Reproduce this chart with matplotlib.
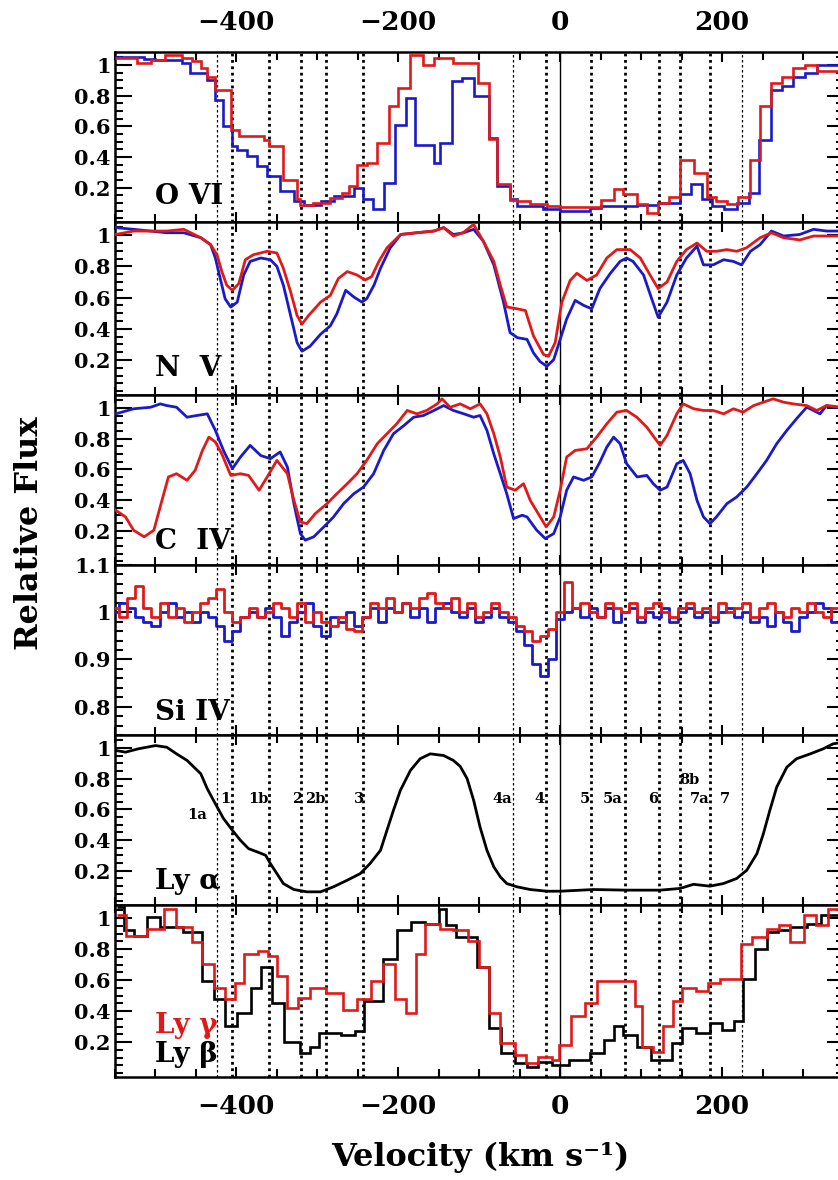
"""Six stacked absorption-line panels (O VI, N V, C IV, Si IV, Ly a, Ly b/g) vs velocity."""
import matplotlib
matplotlib.use("Agg")
import matplotlib.pyplot as plt
from matplotlib.ticker import MultipleLocator, FixedLocator, FuncFormatter

plt.rcParams["font.family"] = ["DejaVu Serif"]
plt.rcParams["font.weight"] = "bold"
RED, BLUE, INK = "#e01a1a", "#1a1ac8", "black"

# --- O VI (binned, stairs: edges + values) ---
ovi_red_edges = [-550, -523, -506, -488, -467, -455, -444, -436, -426, -407, -397, -366, -360, -342, -325,
                 -321, -305, -284, -270, -261, -251, -239, -226, -212, -200, -185, -169, -156, -132, -101,
                 -88, -78, -62, -53, -37, -16, 0, 37, 51, 66, 78, 95, 107, 121, 134, 148, 165, 181, 193,
                 206, 220, 235, 247, 261, 274, 288, 302, 317, 329, 350]
ovi_red = [1.045, 1.012, 1.034, 1.066, 1.045, 1.023, 0.98, 0.925, 0.838, 0.578, 0.534, 0.513, 0.469,
           0.252, 0.122, 0.089, 0.10, 0.133, 0.165, 0.208, 0.35, 0.36, 0.49, 0.73, 0.85, 1.066, 1.0,
           1.045, 1.012, 0.88, 0.52, 0.22, 0.12, 0.11, 0.09, 0.08, 0.07, 0.07, 0.12, 0.19, 0.155, 0.09,
           0.035, 0.10, 0.14, 0.38, 0.295, 0.14, 0.11, 0.09, 0.14, 0.38, 0.73, 0.88, 0.925, 0.98, 1.0,
           0.96, 0.96]
ovi_blue_edges = [-550, -514, -500, -467, -457, -436, -426, -416, -405, -399, -387, -374, -362, -346, -329,
                  -317, -296, -280, -255, -243, -231, -218, -204, -191, -179, -156, -148, -134, -121, -107,
                  -88, -78, -62, -53, -21, 0, 37, 51, 78, 95, 121, 148, 161, 175, 187, 202, 218, 233, 245,
                  261, 274, 288, 302, 317, 329, 350]
ovi_blue = [1.05, 1.04, 1.03, 1.01, 0.95, 0.90, 0.773, 0.60, 0.469, 0.447, 0.404, 0.339, 0.274, 0.176,
            0.111, 0.089, 0.111, 0.144, 0.198, 0.122, 0.057, 0.23, 0.61, 0.784, 0.48, 0.36, 0.49, 0.893,
            0.915, 0.795, 0.524, 0.209, 0.122, 0.078, 0.057, 0.046, 0.068, 0.078, 0.078, 0.089, 0.10,
            0.155, 0.22, 0.122, 0.078, 0.057, 0.10, 0.165, 0.513, 0.838, 0.86, 0.925, 0.947, 1.0, 1.0]

# --- N V ---
nv_blue_v = [-549, -527, -486, -465, -444, -432, -426, -420, -414, -407, -399, -391, -383, -370, -358, -350,
             -342, -333, -325, -319, -309, -296, -284, -276, -265, -255, -245, -239, -230, -222, -210, -197,
             -177, -156, -144, -132, -120, -107, -95, -82, -70, -62, -53, -41, -33, -25, -16.5, -8, 0, 8,
             18.5, 29, 39, 49, 62, 74, 82, 90, 103, 113, 121, 132, 144, 156, 169, 177, 189, 202, 214, 224,
             235, 247, 261, 276, 296, 313, 329, 350]
nv_blue = [1.049, 1.038, 1.016, 1.016, 0.984, 0.94, 0.854, 0.723, 0.593, 0.539, 0.571, 0.745, 0.832, 0.854,
           0.843, 0.80, 0.68, 0.484, 0.31, 0.256, 0.288, 0.365, 0.419, 0.495, 0.647, 0.604, 0.571, 0.593,
           0.68, 0.788, 0.919, 1.005, 1.016, 1.027, 1.049, 1.005, 1.015, 1.038, 0.962, 0.81, 0.571, 0.376,
           0.343, 0.332, 0.245, 0.19, 0.159, 0.202, 0.332, 0.463, 0.582, 0.55, 0.528, 0.658, 0.756, 0.832,
           0.854, 0.832, 0.745, 0.593, 0.474, 0.571, 0.745, 0.854, 0.93, 0.81, 0.81, 0.843, 0.832, 0.81,
           0.897, 0.94, 1.027, 0.995, 1.005, 1.038, 1.027, 1.027]
nv_red_v = [-549, -527, -486, -465, -444, -432, -424, -418, -412, -405, -397, -389, -379, -362, -350, -342,
            -333, -325, -319, -311, -296, -284, -274, -263, -251, -241, -233, -224, -214, -197, -177, -156,
            -144, -132, -120, -107, -95, -82, -74, -66, -53, -43, -33, -20.6, -14.4, -6.2, 2, 12.3, 20.6,
            33, 45, 57.6, 70, 86.4, 99, 111, 121, 132, 144, 156, 169, 181, 193, 206, 218, 230, 247, 261,
            276, 296, 313, 329, 350]
nv_red = [1.005, 1.027, 1.027, 1.038, 0.984, 0.94, 0.875, 0.767, 0.68, 0.647, 0.69, 0.843, 0.875, 0.897,
          0.886, 0.788, 0.636, 0.484, 0.43, 0.484, 0.571, 0.614, 0.723, 0.767, 0.745, 0.713, 0.734, 0.832,
          0.919, 1.005, 1.016, 1.027, 1.049, 0.995, 1.016, 1.07, 0.962, 0.832, 0.68, 0.54, 0.528, 0.517,
          0.354, 0.235, 0.224, 0.311, 0.57, 0.71, 0.756, 0.71, 0.745, 0.854, 0.908, 0.908, 0.854, 0.745,
          0.658, 0.70, 0.832, 0.908, 0.95, 0.897, 0.897, 0.908, 0.897, 0.919, 0.984, 1.016, 0.984, 0.97,
          0.995, 0.995, 0.995]

# --- C IV ---
civ_blue_v = [-549, -527, -506, -494, -486, -474, -461, -449, -436, -426, -416, -405, -395, -383, -370,
              -358, -346, -337, -329, -321, -315, -304.5, -292, -280, -267.5, -255, -243, -230.5, -218,
              -206, -193, -181, -169, -156, -144, -132, -119, -107, -99, -90.5, -82, -74, -66, -57.6, -47,
              -41, -29, -18.5, -8, 0, 8, 16.5, 29, 39, 49, 57.6, 66, 74, 82, 95, 107, 115, 123.5, 132, 144,
              152, 160.5, 169, 177, 185, 193, 206, 218, 230.5, 243, 255, 267.5, 280, 292, 304.5, 313, 321,
              329, 350]
civ_blue = [0.962, 0.995, 1.005, 1.027, 1.016, 1.005, 0.94, 0.951, 0.962, 0.854, 0.723, 0.604, 0.68, 0.756,
            0.69, 0.669, 0.713, 0.614, 0.376, 0.18, 0.137, 0.159, 0.224, 0.289, 0.376, 0.44, 0.484, 0.571,
            0.723, 0.832, 0.886, 0.94, 0.951, 0.984, 1.016, 0.984, 0.962, 0.94, 0.951, 0.854, 0.70, 0.571,
            0.44, 0.278, 0.30, 0.289, 0.202, 0.148, 0.18, 0.289, 0.463, 0.55, 0.528, 0.55, 0.647, 0.745,
            0.81, 0.767, 0.637, 0.55, 0.56, 0.506, 0.463, 0.484, 0.636, 0.658, 0.571, 0.397, 0.289, 0.245,
            0.289, 0.376, 0.419, 0.484, 0.571, 0.658, 0.767, 0.854, 0.93, 1.005, 0.984, 0.962, 1.016, 0.995]
civ_red_v = [-549, -537, -527, -514, -502, -492, -484, -474, -461, -451, -442, -434, -426, -418, -407, -395,
             -385, -372, -362, -350, -337, -329, -321, -313, -302.5, -288, -276, -263, -251, -239, -226,
             -214, -202, -189, -177, -165, -152, -146, -136, -123.5, -111, -99, -90.5, -82, -74, -66,
             -55.6, -45.3, -37, -24.7, -17.3, -8, 0, 8, 18.5, 33, 45, 57.6, 70, 82, 94.7, 107, 119, 123.5,
             132, 144, 152, 165, 177, 189, 202, 214, 226, 239, 251, 263, 276, 288, 304.5, 317, 329, 350]
civ_red = [0.332, 0.289, 0.202, 0.159, 0.202, 0.397, 0.55, 0.571, 0.528, 0.593, 0.723, 0.81, 0.778, 0.70,
           0.56, 0.571, 0.56, 0.463, 0.55, 0.658, 0.571, 0.397, 0.256, 0.245, 0.311, 0.376, 0.44, 0.506,
           0.571, 0.658, 0.767, 0.832, 0.897, 0.984, 0.962, 0.984, 1.027, 1.06, 1.005, 1.027, 0.995, 1.027,
           0.962, 0.832, 0.68, 0.484, 0.463, 0.506, 0.397, 0.289, 0.224, 0.289, 0.463, 0.68, 0.723, 0.734,
           0.81, 0.897, 0.973, 0.984, 0.94, 0.875, 0.788, 0.756, 0.821, 0.962, 1.027, 0.995, 0.984, 0.984,
           0.962, 0.995, 0.973, 1.016, 1.038, 1.06, 1.038, 1.027, 1.016, 0.984, 1.016, 1.005]

# --- Si IV (10 km/s sampling) ---
siiv_v = list(range(-550, 351, 10))
siiv_blue = [1.00, 1.02, 1.01, 0.99, 0.98, 0.97, 1.00, 1.02, 0.99, 1.00, 0.98, 1.00, 0.99, 0.97, 0.94, 0.96,
             0.99, 1.00, 0.99, 1.01, 0.99, 0.95, 0.98, 1.00, 1.02, 0.97, 0.95, 0.99, 0.98, 1.00, 0.97, 0.99,
             1.01, 0.98, 1.01, 1.00, 1.02, 0.99, 1.01, 0.98, 1.01, 1.02, 1.00, 0.99, 1.01, 0.98, 0.99, 1.01,
             0.99, 0.98, 0.96, 0.93, 0.89, 0.865, 0.90, 0.985, 1.00, 1.01, 0.99, 1.01, 0.99, 1.01, 0.98,
             1.00, 1.01, 0.98, 1.00, 0.99, 1.01, 0.98, 1.00, 1.01, 0.99, 1.00, 0.98, 1.00, 1.01, 0.99, 1.00,
             0.98, 0.99, 0.97, 1.00, 0.98, 0.96, 0.99, 1.00, 1.02, 1.01, 0.98, 1.00]
siiv_red = [1.01, 0.99, 1.03, 1.055, 1.01, 0.99, 1.02, 0.99, 1.01, 0.98, 1.00, 1.02, 1.03, 1.05, 1.00, 0.98,
            0.99, 1.01, 0.99, 1.00, 1.02, 1.01, 0.99, 1.02, 0.98, 1.00, 0.98, 0.97, 0.99, 0.965, 0.96, 0.99,
            1.02, 1.01, 1.03, 1.00, 1.02, 1.01, 1.03, 1.04, 1.02, 1.01, 1.03, 1.00, 1.02, 0.99, 1.00, 1.02,
            1.00, 0.99, 0.97, 0.96, 0.94, 0.95, 0.965, 1.00, 1.065, 1.01, 1.02, 1.00, 0.99, 1.02, 1.01, 1.00,
            1.02, 0.99, 1.01, 1.02, 1.00, 0.99, 1.01, 1.02, 1.00, 1.01, 0.99, 1.02, 1.00, 1.01, 1.02, 0.99,
            1.01, 1.02, 1.00, 0.99, 1.01, 1.00, 1.02, 1.00, 0.99, 1.01, 1.00]

# --- Ly alpha ---
lya_v = [-549, -537, -521, -500, -486, -474, -461, -444, -436, -426, -416, -405, -395, -385, -374, -364,
         -358, -350, -342, -329, -313, -296, -280, -263, -247, -235, -222, -214, -206, -197.5, -185, -173,
         -160.5, -144, -132, -123.5, -115, -107, -99, -90.5, -82, -74, -66, -53.5, -37, -16.5, 0, 41, 82,
         123.5, 148, 164.6, 185, 201.6, 218, 230.5, 243, 251, 259, 267.5, 280, 292, 309, 325, 337, 350]
lya = [0.984, 0.973, 0.995, 1.016, 1.005, 0.962, 0.919, 0.832, 0.734, 0.636, 0.54, 0.463, 0.397, 0.343,
       0.321, 0.30, 0.245, 0.18, 0.115, 0.076, 0.061, 0.061, 0.094, 0.137, 0.18, 0.245, 0.332, 0.463, 0.593,
       0.723, 0.854, 0.93, 0.962, 0.951, 0.919, 0.88, 0.80, 0.66, 0.484, 0.332, 0.224, 0.159, 0.115, 0.094,
       0.076, 0.065, 0.065, 0.076, 0.072, 0.072, 0.083, 0.11, 0.098, 0.115, 0.148, 0.202, 0.31, 0.44, 0.593,
       0.745, 0.875, 0.93, 0.962, 0.995, 1.027, 1.038]

# --- Ly beta (black) / Ly gamma (red), binned ---
lyb_edges = [-547.5, -539, -527, -510, -495, -466, -443, -428, -414, -399, -382, -370, -356, -341, -321,
             -309, -297.5, -271, -254, -242, -219, -201.6, -184, -166.7, -149.3, -140.5, -129, -102.7, -88,
             -73.6, -56, -41.6, -27, -9.6, 10.7, 37, 54.3, 66, 77.5, 95, 112.5, 138.7, 150.3, 167.7, 185.2,
             199.7, 214.2, 225.8, 240.4, 255, 269.5, 284, 304.4, 321.8, 350]
lyb = [1.073, 0.921, 0.888, 1.008, 0.942, 0.91, 0.595, 0.476, 0.302, 0.388, 0.552, 0.682, 0.454, 0.204,
       0.128, 0.171, 0.258, 0.247, 0.269, 0.465, 0.736, 0.921, 0.975, 0.964, 1.062, 0.953, 0.877, 0.682,
       0.291, 0.128, 0.063, 0.041, 0.074, 0.052, 0.084, 0.128, 0.215, 0.302, 0.247, 0.171, 0.084, 0.193,
       0.291, 0.258, 0.324, 0.28, 0.334, 0.606, 0.801, 0.91, 0.921, 0.942, 0.964, 1.018]
lyg_edges = [-547.5, -536, -510, -489, -475, -454.5, -443, -428, -414, -402, -390.5, -373, -361.5, -350,
             -338, -324, -309, -289, -268, -251, -233.5, -219, -204, -190, -178, -167, -149, -132, -114,
             -100, -88, -74, -56, -42, -27, -10, -1, 13.6, 31, 45.5, 92, 101, 115, 127, 139, 150, 168, 182,
             197, 223, 237, 255, 270, 284, 301.5, 316, 330.5, 350]
lyg = [1.018, 0.888, 0.932, 1.062, 0.942, 0.845, 0.703, 0.552, 0.476, 0.584, 0.77, 0.79, 0.758, 0.628,
       0.421, 0.487, 0.552, 0.519, 0.41, 0.476, 0.595, 0.703, 0.476, 0.388, 0.77, 0.964, 0.932, 0.921,
       0.855, 0.682, 0.388, 0.193, 0.117, 0.063, 0.106, 0.084, 0.182, 0.367, 0.454, 0.595, 0.432, 0.171,
       0.139, 0.302, 0.465, 0.552, 0.53, 0.584, 0.606, 0.834, 0.877, 0.932, 0.953, 0.845, 1.018, 0.953,
       1.062]

# --- velocity components (dotted markers) and their Ly alpha labels ---
comp_v = [-424, -405, -360, -320, -289, -243, -58, -17, 38, 80, 122, 148, 185, 224]
comp_thin = [True, False, False, False, False, False, True, False, False, False, False, False, False, True]
comp_labels = ["1a", "1", "1b", "2", "2b", "3", "4a", "4", "5", "5a", "6", "8b", "7a", "7"]
label_v = [-448, -414, -373, -325, -302, -249, -72, -25, 31, 65, 115, 160, 172, 204]
label_y = [0.56, 0.67, 0.67, 0.67, 0.67, 0.67, 0.67, 0.67, 0.67, 0.67, 0.67, 0.79, 0.67, 0.67]

# ---------------------------------------------------------------- layout
W, H = 838, 1180
panel_px = [(52, 222), (222, 395), (395, 565), (565, 735), (735, 905), (905, 1077)]
fig = plt.figure(figsize=(W / 100, H / 100), dpi=100)
axes = [fig.add_axes([115 / W, 1 - b / H, (843.5 - 115) / W, (b - t) / H]) for t, b in panel_px]

gfmt = FuncFormatter(lambda v, p: f"{v:g}".replace("-", "\u2212"))


def style(ax, ylim, yticks, yminor):
    ax.set_xlim(-550, 350)
    ax.set_ylim(*ylim)
    ax.xaxis.set_major_locator(MultipleLocator(200))
    ax.xaxis.set_minor_locator(MultipleLocator(50))
    ax.yaxis.set_major_locator(FixedLocator(yticks))
    ax.yaxis.set_minor_locator(MultipleLocator(yminor))
    ax.xaxis.set_major_formatter(gfmt)
    ax.yaxis.set_major_formatter(gfmt)
    ax.tick_params(which="both", direction="in", top=True, right=True, width=1.5)
    ax.tick_params(axis="x", which="major", length=7, labelsize=19, pad=12,
                   labelbottom=False, labeltop=False)
    ax.tick_params(axis="x", which="minor", length=6)
    ax.tick_params(axis="y", which="major", length=12, labelsize=15, pad=3)
    ax.tick_params(axis="y", which="minor", length=6)
    for s in ax.spines.values():
        s.set_linewidth(1.8)
    for v, thin in zip(comp_v, comp_thin):
        if thin:
            ax.axvline(v, color=INK, lw=0.9, ls=(0, (2, 2)), zorder=1)
        else:
            ax.axvline(v, color=INK, lw=2.0, ls=(0, (1, 1.3)), zorder=1)
    ax.axvline(0, color=INK, lw=1.0, zorder=1)


main_lim, main_ticks = (-0.025, 1.085), [0.2, 0.4, 0.6, 0.8, 1.0]
lab_kw = dict(fontsize=20, ha="left", va="center", zorder=5)

ax = axes[0]
style(ax, main_lim, main_ticks, 0.05)
ax.stairs(ovi_blue, ovi_blue_edges, baseline=None, color=BLUE, lw=1.9, zorder=3)
ax.stairs(ovi_red, ovi_red_edges, baseline=None, color=RED, lw=1.9, zorder=4)
ax.text(-500, 0.14, "O VI", **lab_kw)
ax.tick_params(axis="x", labeltop=True)

ax = axes[1]
style(ax, main_lim, main_ticks, 0.05)
ax.plot(nv_blue_v, nv_blue, color=BLUE, lw=2.0, zorder=3)
ax.plot(nv_red_v, nv_red, color=RED, lw=2.0, zorder=4)
ax.text(-500, 0.147, "N  V", **lab_kw)

ax = axes[2]
style(ax, main_lim, main_ticks, 0.05)
ax.plot(civ_blue_v, civ_blue, color=BLUE, lw=2.0, zorder=3)
ax.plot(civ_red_v, civ_red, color=RED, lw=2.0, zorder=4)
ax.text(-500, 0.127, "C  IV", **lab_kw)

ax = axes[3]
style(ax, (0.74, 1.1 + 1e-9), [0.8, 0.9, 1.0, 1.1], 0.02)
ax.plot(siiv_v, siiv_blue, color=BLUE, lw=2.0, drawstyle="steps-mid", zorder=3)
ax.plot(siiv_v, siiv_red, color=RED, lw=2.0, drawstyle="steps-mid", zorder=4)
ax.text(-500, 0.787, "Si IV", **lab_kw)

ax = axes[4]
style(ax, main_lim, main_ticks, 0.05)
ax.plot(lya_v, lya, color=INK, lw=2.0, zorder=3)
ax.text(-500, 0.13, "Ly α", **lab_kw)
for v, y, s in zip(label_v, label_y, comp_labels):
    ax.text(v, y, s, fontsize=10.5, ha="center", va="center", zorder=5)

ax = axes[5]
style(ax, main_lim, main_ticks, 0.05)
ax.stairs(lyb, lyb_edges, baseline=None, color=INK, lw=1.9, zorder=3)
ax.stairs(lyg, lyg_edges, baseline=None, color=RED, lw=1.9, zorder=4)
ax.text(-500, 0.31, "Ly γ", color=RED, **lab_kw)
ax.text(-500, 0.117, "Ly β", color=INK, **lab_kw)
ax.tick_params(axis="x", labelbottom=True)

fig.text(480 / W, 1 - 1157 / H, "Velocity (km s\u207b\u00b9)", ha="center", va="center", fontsize=23)
fig.text(30 / W, 1 - 533 / H, "Relative Flux", rotation=90, ha="center", va="center", fontsize=23)

fig.savefig("out.png", dpi=100)
plt.close(fig)
